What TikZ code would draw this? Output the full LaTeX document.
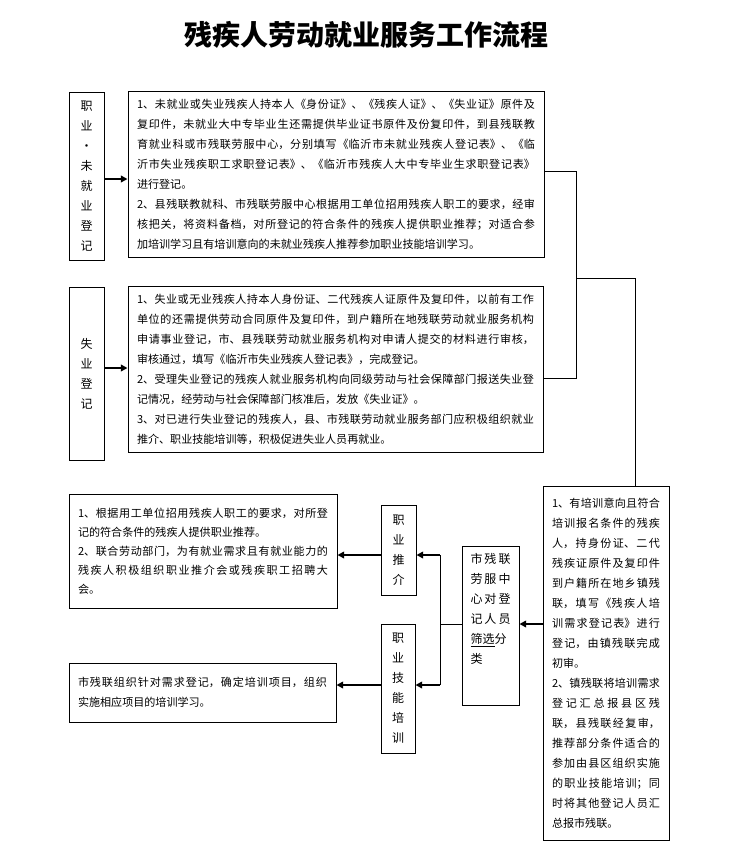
\documentclass[tikz,border=0pt]{standalone}
\usepackage{fontspec}
\setmainfont{Noto Sans CJK SC}
\usetikzlibrary{arrows.meta}
\XeTeXlinebreaklocale "zh"
\XeTeXlinebreakskip=0pt plus 1.5pt
\tolerance=9999
\hbadness=10000
\newcommand{\bodytext}[3][15pt]{\begin{minipage}{#2}\fontsize{8.3}{#1}\selectfont #3\end{minipage}}
\tikzset{
  boxnode/.style={draw, line width=0.75pt, inner sep=0pt},
  vlabel/.style={boxnode, align=center, font=\fontsize{9}{15}\selectfont},
  arr/.style={line width=1.5pt, -{Triangle[length=5pt,width=5pt]}},
  link/.style={line width=0.75pt}
}
\begin{document}
\begin{tikzpicture}[x=0.75pt,y=-0.75pt]
\fill[white] (0,0) rectangle (730,853);
\useasboundingbox (0,0) rectangle (730,853);
\node[font=\fontsize{21}{25}\selectfont\bfseries] (title) at (366,35) {残疾人劳动就业服务工作流程};
% row 1
\node[vlabel, minimum width=26.25pt, minimum height=126pt] (A) at (86.5,176) {职\\业\\·\\未\\就\\业\\登\\记};
\node[boxnode, minimum width=312pt, minimum height=124.5pt] (B) at (336,174) {\bodytext{298.5pt}{%
1、未就业或失业残疾人持本人《身份证》、《残疾人证》、《失业证》原件及\linebreak
复印件，未就业大中专毕业生还需提供毕业证书原件及份复印件，到县残联教\linebreak
育就业科或市残联劳服中心，分别填写《临沂市未就业残疾人登记表》、《临\linebreak
沂市失业残疾职工求职登记表》、《临沂市残疾人大中专毕业生求职登记表》\linebreak
进行登记。\par
2、县残联教就科、市残联劳服中心根据用工单位招用残疾人职工的要求，经审\linebreak
核把关，将资料备档，对所登记的符合条件的残疾人提供职业推荐；对适合参\linebreak
加培训学习且有培训意向的未就业残疾人推荐参加职业技能培训学习。}};
% row 2
\node[vlabel, minimum width=26.25pt, minimum height=129.75pt] (C) at (86.5,373.5) {失\\业\\登\\记};
\node[boxnode, minimum width=311.25pt, minimum height=124.5pt] (D) at (335.5,369) {\bodytext{297.75pt}{%
1、失业或无业残疾人持本人身份证、二代残疾人证原件及复印件，以前有工作\linebreak
单位的还需提供劳动合同原件及复印件，到户籍所在地残联劳动就业服务机构\linebreak
申请事业登记，市、县残联劳动就业服务机构对申请人提交的材料进行审核，\linebreak
审核通过，填写《临沂市失业残疾人登记表》，完成登记。\par
2、受理失业登记的残疾人就业服务机构向同级劳动与社会保障部门报送失业登\linebreak
记情况，经劳动与社会保障部门核准后，发放《失业证》。\par
3、对已进行失业登记的残疾人，县、市残联劳动就业服务部门应积极组织就业\linebreak
推介、职业技能培训等，积极促进失业人员再就业。}};
% lower part
\node[boxnode, minimum width=201pt, minimum height=85.5pt] (E) at (203,551) {\bodytext[14.3pt]{187.5pt}{%
1、根据用工单位招用残疾人职工的要求，对所登\linebreak
记的符合条件的残疾人提供职业推荐。\par
2、联合劳动部门，为有就业需求且有就业能力的\linebreak
残疾人积极组织职业推介会或残疾职工招聘大\linebreak
会。}};
\node[vlabel, minimum width=26.25pt, minimum height=67.5pt] (F) at (398.5,550) {职\\业\\推\\介};
\node[vlabel, minimum width=25.5pt, minimum height=96.75pt] (G) at (398,688.5) {职\\业\\技\\能\\培\\训};
\node[boxnode, minimum width=200.25pt, minimum height=44.25pt] (H) at (202.5,692.5) {\bodytext{186.75pt}{%
市残联组织针对需求登记，确定培训项目，组织\linebreak
实施相应项目的培训学习。}};
\node[boxnode, minimum width=42.75pt, minimum height=119.25pt] (I) at (490.5,625.5) {%
\begin{minipage}[c][119.25pt][t]{30pt}\fontsize{9}{15}\selectfont\vspace*{5.5pt}%
市残联\linebreak
劳服中\linebreak
心对登\linebreak
记人员\linebreak
\underline{筛选}分\linebreak
类\end{minipage}};
\node[boxnode, minimum width=94.5pt, minimum height=265.5pt] (J) at (606,663) {\bodytext{81pt}{%
1、有培训意向且符合\linebreak
培训报名条件的残疾\linebreak
人，持身份证、二代\linebreak
残疾证原件及复印件\linebreak
到户籍所在地乡镇残\linebreak
联，填写《残疾人培\linebreak
训需求登记表》进行\linebreak
登记，由镇残联完成\linebreak
初审。\par
2、镇残联将培训需求\linebreak
登记汇总报县区残\linebreak
联，县残联经复审，\linebreak
推荐部分条件适合的\linebreak
参加由县区组织实施\linebreak
的职业技能培训；同\linebreak
时将其他登记人员汇\linebreak
总报市残联。}};
% helper coordinates
\coordinate (yA) at (0,179);
\coordinate (yC) at (0,368);
\coordinate (c1) at (576,171);
\coordinate (c2) at (576,378);
\coordinate (c3) at (576,278);
\coordinate (c4) at (635,278);
\coordinate (yI) at (0,624);
\coordinate (bx) at (440,555);
\coordinate (by) at (440,685);
% connectors
\draw[arr] (A.east |- yA) -- (B.west |- yA);
\draw[arr] (C.east |- yC) -- (D.west |- yC);
\draw[link] (B.east |- c1) -- (c1) -- (c2) -- (D.east |- c2);
\draw[link] (c3) -- (c4) -- (c4 |- J.north);
\draw[arr] (J.west |- yI) -- (I.east |- yI);
\draw[link] (I.west |- yI) -- (bx |- yI);
\draw[link] (bx) -- (by);
\draw[arr] (bx) -- (F.east |- bx);
\draw[arr] (by) -- (G.east |- by);
\draw[arr] (F.west |- bx) -- (E.east |- bx);
\draw[arr] (G.west |- by) -- (H.east |- by);
\end{tikzpicture}
\end{document}
